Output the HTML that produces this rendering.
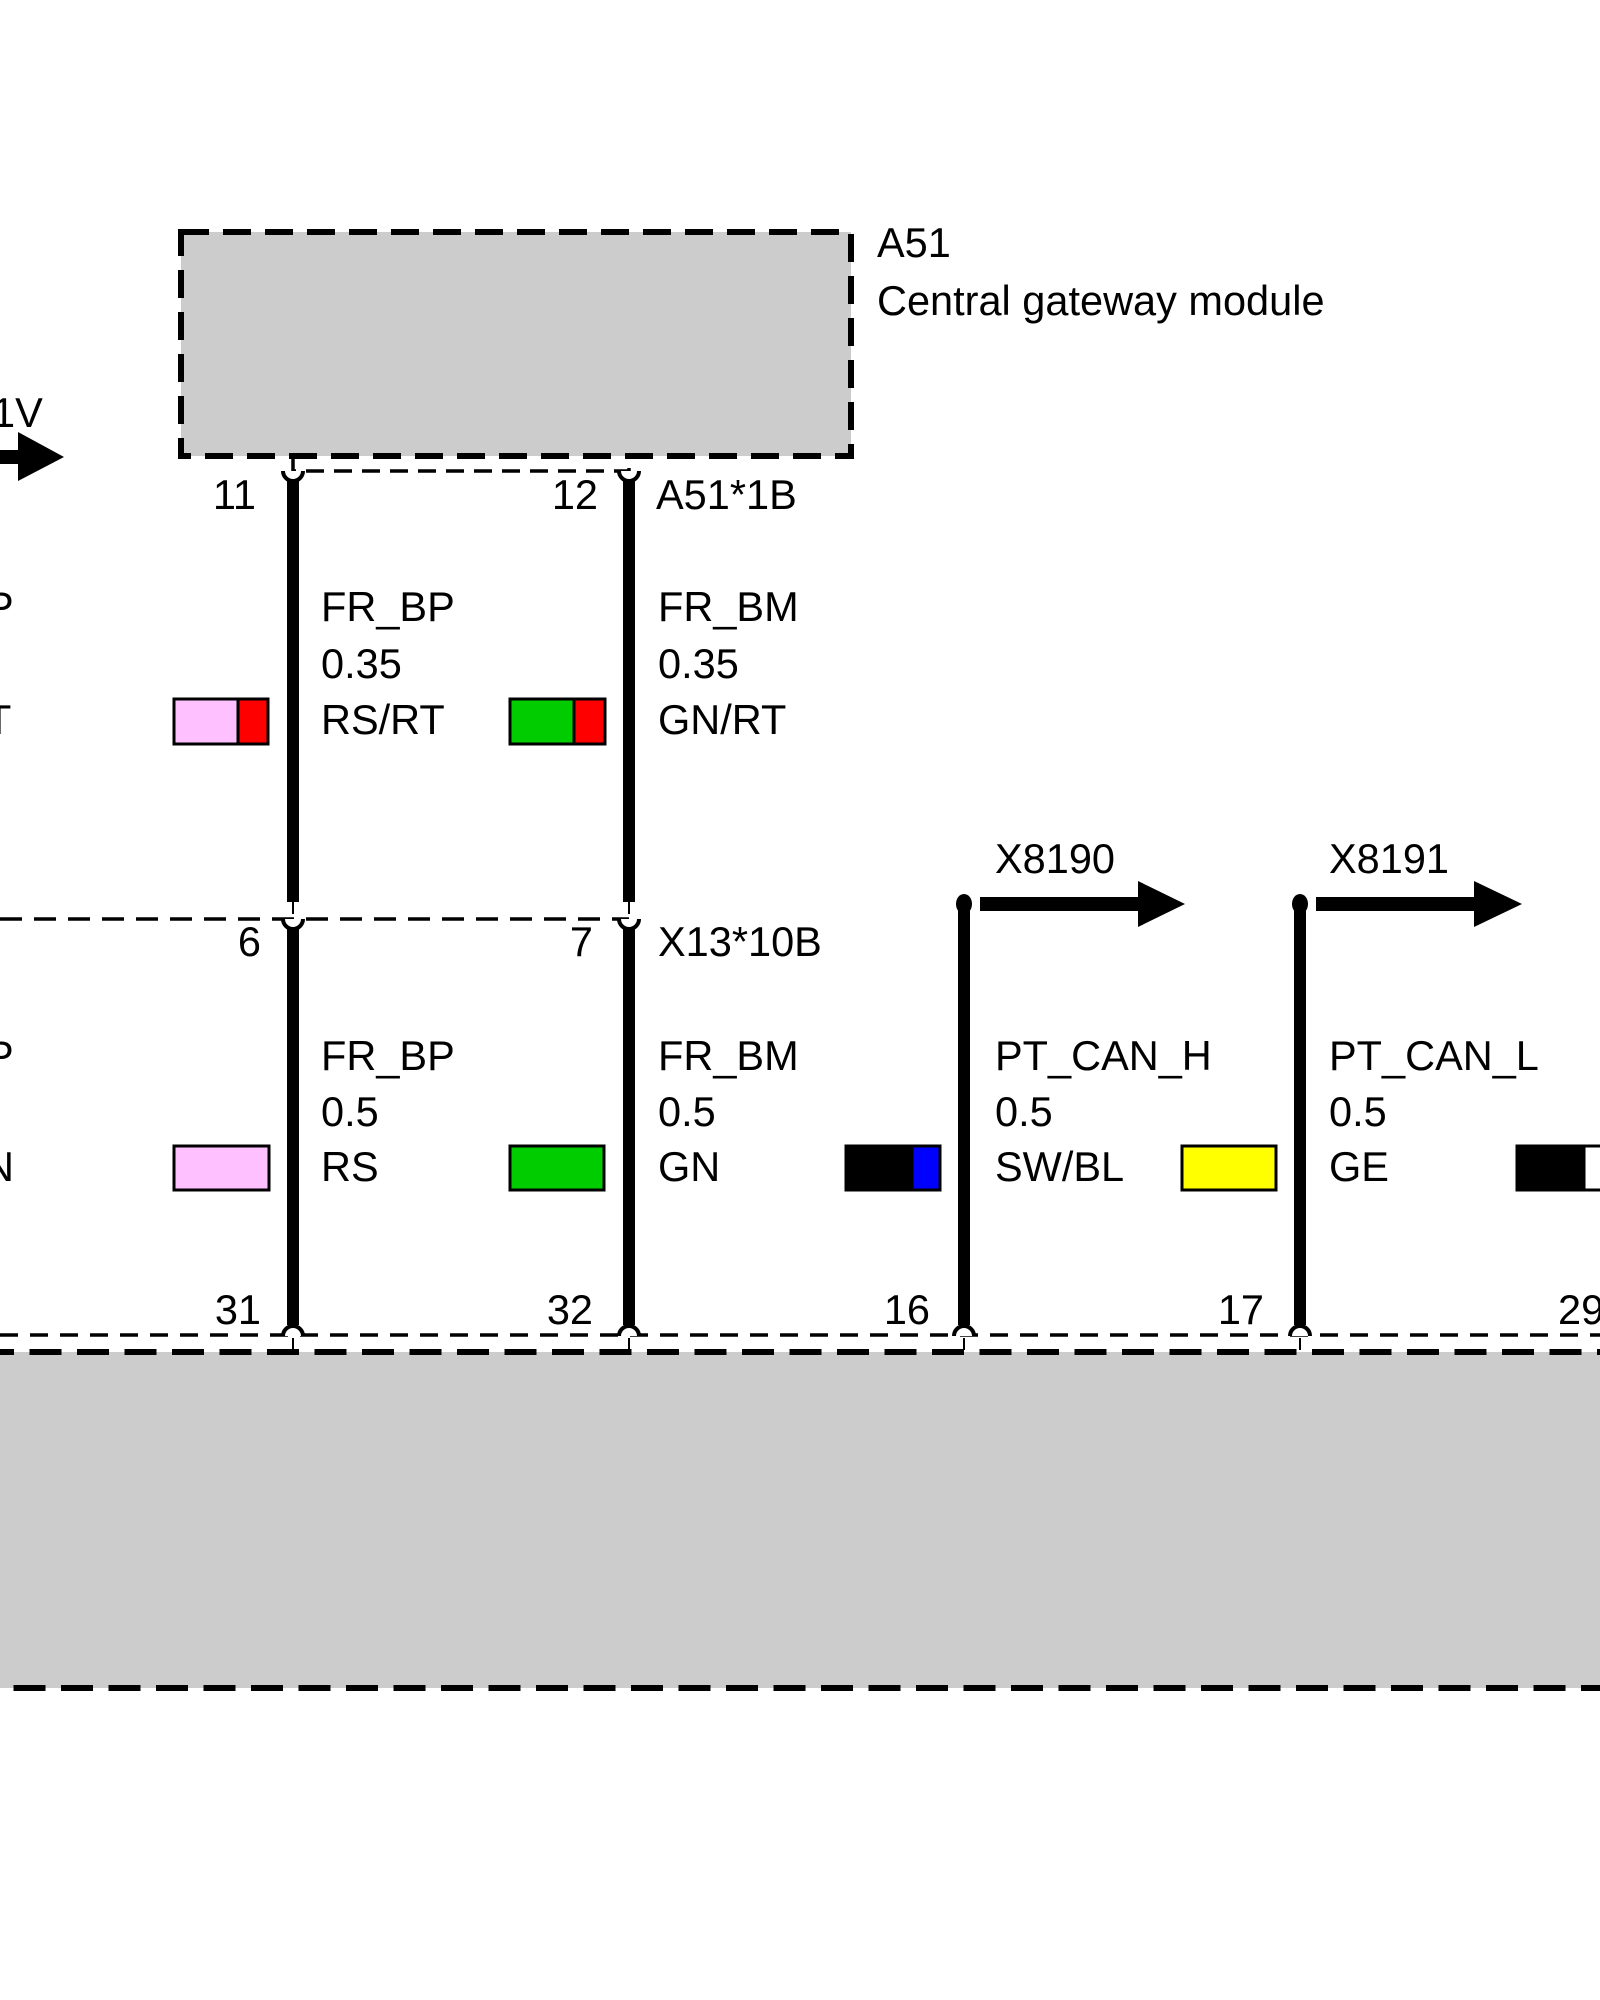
<!DOCTYPE html>
<html><head><meta charset="utf-8"><style>
html,body{margin:0;padding:0;background:#fff;}
svg{display:block;}
text{font-family:"Liberation Sans",Arial,sans-serif;font-size:41.5px;fill:#000;}
</style></head><body>
<svg width="1600" height="2000" viewBox="0 0 1600 2000" xmlns="http://www.w3.org/2000/svg">
<rect x="181" y="232" width="670" height="224" fill="#cccccc"/>
<rect x="181" y="232" width="670" height="224" fill="none" stroke="#000" stroke-width="6" stroke-dasharray="28,14"/>
<text x="877" y="257">A51</text>
<text x="877" y="315">Central gateway module</text>

<text x="-8" y="427">1V</text>
<rect x="0" y="450" width="20" height="14" fill="#000"/>
<polygon points="18,432 64,457 18,481" fill="#000"/>

<path d="M293 456 V471 H629 V456" fill="none" stroke="#000" stroke-width="3.5" stroke-dasharray="18,10"/>
<path d="M283 471 A10 10 0 0 0 303 471" fill="#fff" stroke="#000" stroke-width="4"/>
<path d="M619 471 A10 10 0 0 0 639 471" fill="#fff" stroke="#000" stroke-width="4"/>
<text x="256" y="509" text-anchor="end">11</text>
<text x="598" y="509" text-anchor="end">12</text>
<text x="656" y="509">A51*1B</text>

<rect x="287" y="480" width="12" height="422" fill="#000"/>
<rect x="623" y="480" width="12" height="422" fill="#000"/>
<rect x="292" y="902" width="2" height="12" fill="#000"/>
<rect x="628" y="902" width="2" height="12" fill="#000"/>

<text x="-14" y="621">P</text>
<text x="-14" y="734">T</text>
<text x="321" y="621">FR_BP</text>
<text x="321" y="678">0.35</text>
<text x="321" y="734">RS/RT</text>
<text x="658" y="621">FR_BM</text>
<text x="658" y="678">0.35</text>
<text x="658" y="734">GN/RT</text>
<rect x="174" y="699" width="64" height="45" fill="#ffc0ff" stroke="#000" stroke-width="3"/>
<rect x="238" y="699" width="30" height="45" fill="#ff0000" stroke="#000" stroke-width="3"/>
<rect x="510" y="699" width="64" height="45" fill="#00cc00" stroke="#000" stroke-width="3"/>
<rect x="574" y="699" width="31" height="45" fill="#ff0000" stroke="#000" stroke-width="3"/>

<line x1="0" y1="919" x2="629" y2="919" stroke="#000" stroke-width="3.5" stroke-dasharray="22,12"/>
<path d="M283 919 A10 10 0 0 0 303 919" fill="#fff" stroke="#000" stroke-width="4"/>
<path d="M619 919 A10 10 0 0 0 639 919" fill="#fff" stroke="#000" stroke-width="4"/>
<text x="261" y="956" text-anchor="end">6</text>
<text x="593" y="956" text-anchor="end">7</text>
<text x="658" y="956">X13*10B</text>

<rect x="287" y="928" width="12" height="397" fill="#000"/>
<rect x="623" y="928" width="12" height="397" fill="#000"/>
<rect x="958" y="904" width="12" height="421" fill="#000"/>
<rect x="1294" y="904" width="12" height="421" fill="#000"/>
<ellipse cx="964" cy="904" rx="8" ry="10" fill="#000"/>
<ellipse cx="1300" cy="904" rx="8" ry="10" fill="#000"/>
<rect x="980" y="897" width="160" height="14" fill="#000"/>
<polygon points="1138,881 1185,904 1138,927" fill="#000"/>
<rect x="1316" y="897" width="160" height="14" fill="#000"/>
<polygon points="1474,881 1522,904 1474,927" fill="#000"/>
<text x="995" y="873">X8190</text>
<text x="1329" y="873">X8191</text>

<text x="-14" y="1070">P</text>
<text x="-16" y="1181">N</text>
<text x="321" y="1070">FR_BP</text>
<text x="321" y="1126">0.5</text>
<text x="321" y="1181">RS</text>
<text x="658" y="1070">FR_BM</text>
<text x="658" y="1126">0.5</text>
<text x="658" y="1181">GN</text>
<text x="995" y="1070">PT_CAN_H</text>
<text x="995" y="1126">0.5</text>
<text x="995" y="1181">SW/BL</text>
<text x="1329" y="1070">PT_CAN_L</text>
<text x="1329" y="1126">0.5</text>
<text x="1329" y="1181">GE</text>
<rect x="174" y="1146" width="95" height="44" fill="#ffc0ff" stroke="#000" stroke-width="3"/>
<rect x="510" y="1146" width="94" height="44" fill="#00cc00" stroke="#000" stroke-width="3"/>
<rect x="846" y="1146" width="66" height="44" fill="#000" stroke="#000" stroke-width="3"/>
<rect x="912" y="1146" width="28" height="44" fill="#0000ff" stroke="#000" stroke-width="3"/>
<rect x="1182" y="1146" width="94" height="44" fill="#ffff00" stroke="#000" stroke-width="3"/>
<rect x="1517" y="1146" width="67" height="44" fill="#000" stroke="#000" stroke-width="3"/>
<rect x="1584" y="1146" width="30" height="44" fill="#fff" stroke="#000" stroke-width="3"/>

<text x="261" y="1324" text-anchor="end">31</text>
<text x="593" y="1324" text-anchor="end">32</text>
<text x="930" y="1324" text-anchor="end">16</text>
<text x="1264" y="1324" text-anchor="end">17</text>
<text x="1558" y="1324">29</text>

<rect x="-10" y="1352" width="1620" height="336" fill="#cccccc"/>
<line x1="0" y1="1352" x2="1600" y2="1352" stroke="#000" stroke-width="6" stroke-dasharray="32,15.5" stroke-dashoffset="18"/>
<line x1="0" y1="1688" x2="1600" y2="1688" stroke="#000" stroke-width="6" stroke-dasharray="32,15.5" stroke-dashoffset="34"/>
<line x1="0" y1="1335" x2="1600" y2="1335" stroke="#000" stroke-width="3.5" stroke-dasharray="18,12"/>
<rect x="292" y="1338" width="2" height="12" fill="#000"/>
<rect x="628" y="1338" width="2" height="12" fill="#000"/>
<rect x="963" y="1338" width="2" height="12" fill="#000"/>
<rect x="1299" y="1338" width="2" height="12" fill="#000"/>
<path d="M283 1336 A10 10 0 0 1 303 1336" fill="#fff" stroke="#000" stroke-width="4"/>
<path d="M619 1336 A10 10 0 0 1 639 1336" fill="#fff" stroke="#000" stroke-width="4"/>
<path d="M954 1336 A10 10 0 0 1 974 1336" fill="#fff" stroke="#000" stroke-width="4"/>
<path d="M1290 1336 A10 10 0 0 1 1310 1336" fill="#fff" stroke="#000" stroke-width="4"/>
</svg>
</body></html>
